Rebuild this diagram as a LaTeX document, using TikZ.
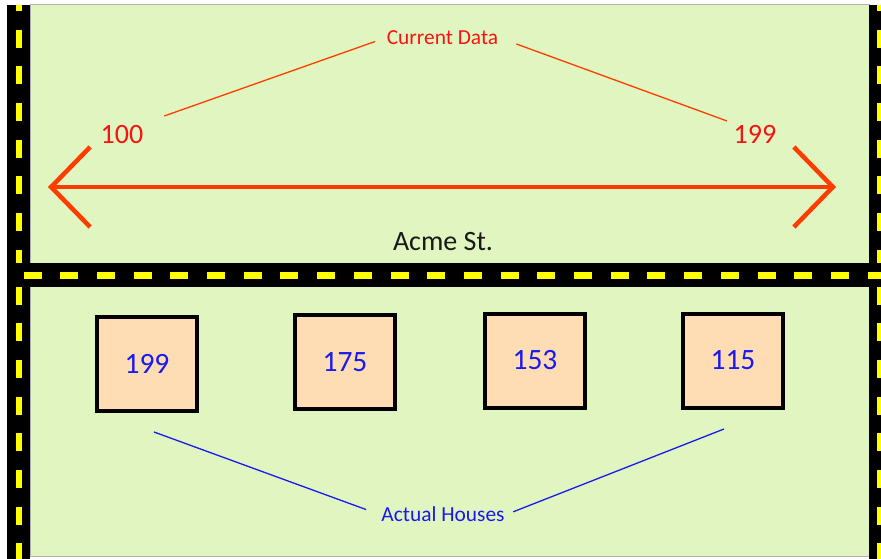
\documentclass[tikz,border=0pt]{standalone}
\usepackage{fontspec}
\setmainfont{Carlito}
\usepackage{tikz}
\usetikzlibrary{arrows.meta,calc}
\definecolor{lotgreen}{RGB}{224,245,192}
\definecolor{housefill}{RGB}{255,221,180}
\definecolor{stripeyellow}{RGB}{255,255,0}
\definecolor{arrowred}{RGB}{255,60,0}
\definecolor{labelred}{RGB}{245,20,20}
\definecolor{labelblue}{RGB}{25,25,240}
\tikzset{
  road/.style={line width=23.5pt,black},
  stripe/.style={line width=6pt,stripeyellow,dash pattern=on 18pt off 18.7pt},
  house/.style={draw=black,line width=4pt,fill=housefill,minimum width=100pt,
    minimum height=94pt,inner sep=0pt,text=labelblue,font=\fontsize{29.5}{32}\selectfont},
  redlabel/.style={text=labelred,inner sep=2pt,anchor=base},
  bluelabel/.style={text=labelblue,inner sep=2pt,anchor=base},
  redline/.style={arrowred,line width=1.3pt},
  blueline/.style={labelblue,line width=1.3pt},
  streetarrow/.style={arrowred,line width=4pt,
    {Straight Barb[length=39pt,width=80pt,line width=4.5pt]}-{Straight Barb[length=39pt,width=80pt,line width=4.5pt]}}
}

\begin{document}
\begin{tikzpicture}[x=1pt,y=-1pt]
    \useasboundingbox (0,0) rectangle (881,559);
    \fill[white] (0,0) rectangle (881,559);
    \filldraw[fill=lotgreen,draw=gray!60,line width=0.6pt] (30,4) rectangle (869,556);

    % side roads
    \draw[road] (18.5,5) -- (18.5,559);
    \draw[stripe,dash phase=12.1pt] (19,5) -- (19,559);
    \draw[road] (880.5,5) -- (880.5,559);
    \draw[stripe,dash phase=12.1pt] (880,5) -- (880,559);
    % Acme St.
    \draw[road] (7,275) -- (881,275);
    \draw[stripe,line width=7pt,dash phase=20.2pt] (7,275) -- (881,275);

    % address range
    \coordinate (westtip) at (48,187);
    \coordinate (easttip) at (836,187);
    \draw[streetarrow] (westtip) -- (easttip);
    \node[redlabel,font=\fontsize{21.4}{24}\selectfont] (cur) at (442.5,45) {Current Data};
    \node[redlabel,font=\fontsize{28}{30}\selectfont] (low) at (122,143) {100};
    \node[redlabel,font=\fontsize{28}{30}\selectfont] (high) at (755,143) {199};
    \draw[redline,shorten <=20pt,shorten >=10pt] (low.north east) -- (cur.west);
    \draw[redline,shorten <=17pt,shorten >=5pt] (cur.east) -- (high.north west);

    \node[anchor=base,inner sep=2pt,text=black!90,font=\fontsize{28}{30}\selectfont] (street) at (443,250) {Acme St.};

    % houses
    \node[house] (h1) at (147,363.5) {199};
    \node[house] (h2) at (345,362) {175};
    \node[house] (h3) at (535,360.5) {153};
    \node[house] (h4) at (733,360.5) {115};

    \node[bluelabel,font=\fontsize{21.4}{24}\selectfont] (ah) at (443,521.7) {Actual Houses};
    \draw[blueline,shorten >=14pt] ([shift={(7,19.5)}]h1.south) -- (ah.west);
    \draw[blueline,shorten >=7pt] ([shift={(-9,19.5)}]h4.south) -- (ah.east);
\end{tikzpicture}
\end{document}
